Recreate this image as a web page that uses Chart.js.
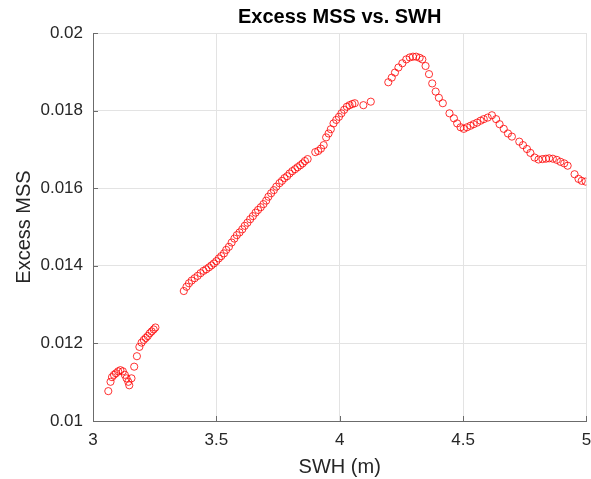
<!DOCTYPE html>
<html>
<head>
<meta charset="utf-8">
<title>Excess MSS vs. SWH</title>
<script src="https://cdn.jsdelivr.net/npm/chart.js@4.4.1/dist/chart.umd.min.js"></script>
<style>
    html, body { margin: 0; padding: 0; background: #fff; }
    #chart { display: block; }
</style>
</head>
<body>
<canvas id="chart" width="591" height="479"></canvas>
<script>
// SWH (m) values
const swh = [
    3.062, 3.071, 3.077, 3.085, 3.093, 3.102, 3.111, 3.121, 3.129, 3.136,
    3.143, 3.147, 3.156, 3.167, 3.178, 3.188, 3.197, 3.206, 3.214, 3.222,
    3.230, 3.238, 3.246, 3.253,
    3.368, 3.379, 3.389, 3.400, 3.412, 3.424, 3.436, 3.448, 3.459, 3.470,
    3.480, 3.490, 3.500, 3.510, 3.520, 3.531, 3.540, 3.551, 3.562, 3.573,
    3.583, 3.594, 3.605, 3.615, 3.626, 3.637, 3.648, 3.659, 3.669, 3.680,
    3.691, 3.702, 3.711, 3.722, 3.733, 3.743, 3.756, 3.766, 3.776, 3.787,
    3.797, 3.808, 3.819, 3.829, 3.840, 3.850, 3.859, 3.870,
    3.901, 3.913, 3.924, 3.935, 3.945, 3.955, 3.964, 3.975, 3.986, 3.997,
    4.007, 4.018, 4.029, 4.040, 4.051, 4.061, 4.096, 4.126,
    4.197, 4.211, 4.224, 4.238, 4.254, 4.270, 4.284, 4.297, 4.310, 4.324,
    4.335, 4.348, 4.362, 4.375, 4.389, 4.402, 4.418, 4.445, 4.463, 4.476,
    4.490, 4.503, 4.516, 4.530, 4.543, 4.557, 4.571, 4.584, 4.600, 4.617,
    4.634, 4.648, 4.665, 4.682, 4.698, 4.728, 4.743, 4.759, 4.773, 4.790,
    4.806, 4.822, 4.836, 4.849, 4.864, 4.880, 4.895, 4.910, 4.924, 4.952,
    4.968, 4.981, 4.997
];

// matching Excess MSS values
const excessMss = [
    0.01077, 0.01101, 0.01113, 0.01119, 0.01123, 0.01128, 0.01131, 0.01128, 0.01119, 0.01110,
    0.01101, 0.01092, 0.01110, 0.01140, 0.01167, 0.01191, 0.01202, 0.01209, 0.01214, 0.01219,
    0.01226, 0.01231, 0.01236, 0.01241,
    0.01335, 0.01346, 0.01355, 0.01362, 0.01368, 0.01374, 0.01381, 0.01387, 0.01391, 0.01396,
    0.01401, 0.01406, 0.01412, 0.01419, 0.01425, 0.01432, 0.01441, 0.01449, 0.01460, 0.01470,
    0.01479, 0.01486, 0.01494, 0.01503, 0.01511, 0.01520, 0.01528, 0.01537, 0.01544, 0.01551,
    0.01559, 0.01568, 0.01578, 0.01587, 0.01595, 0.01604, 0.01613, 0.01619, 0.01626, 0.01631,
    0.01638, 0.01644, 0.01649, 0.01654, 0.01659, 0.01664, 0.01670, 0.01675,
    0.01693, 0.01696, 0.01702, 0.01711, 0.01731, 0.01741, 0.01752, 0.01767, 0.01776, 0.01784,
    0.01793, 0.01802, 0.01810, 0.01814, 0.01817, 0.01819, 0.01814, 0.01823,
    0.01873, 0.01885, 0.01898, 0.01911, 0.01922, 0.01932, 0.01937, 0.01939, 0.01939, 0.01936,
    0.01932, 0.01915, 0.01894, 0.01870, 0.01849, 0.01833, 0.01819, 0.01793, 0.01780, 0.01767,
    0.01757, 0.01753, 0.01757, 0.01761, 0.01765, 0.01769, 0.01774, 0.01778, 0.01782, 0.01788,
    0.01778, 0.01765, 0.01753, 0.01741, 0.01733, 0.01720, 0.01711, 0.01701, 0.01691, 0.01679,
    0.01674, 0.01675, 0.01676, 0.01677, 0.01676, 0.01673, 0.01668, 0.01664, 0.01658, 0.01636,
    0.01624, 0.01619, 0.01617
];

// axis ticks
const xTicks = [3, 3.5, 4, 4.5, 5];
const yTicks = [0.01, 0.012, 0.014, 0.016, 0.018, 0.02];

const fontFamily = '"Liberation Sans", Arial, Helvetica, sans-serif';
const axisColor = '#6b6b6b';
const gridColor = '#e3e3e3';
const textColor = '#262626';

// small inward tick marks, like the matlab axes
const innerTicks = {
    id: 'innerTicks',
    afterDatasetsDraw(chart) {
        const { ctx, chartArea, scales } = chart;
        ctx.save();
        ctx.strokeStyle = axisColor;
        ctx.lineWidth = 1;
        ctx.beginPath();
        xTicks.forEach(v => {
            const px = Math.round(scales.x.getPixelForValue(v)) + 0.5;
            ctx.moveTo(px, chartArea.bottom);
            ctx.lineTo(px, chartArea.bottom - 5);
        });
        yTicks.forEach(v => {
            const py = Math.round(scales.y.getPixelForValue(v)) + 0.5;
            ctx.moveTo(chartArea.left, py);
            ctx.lineTo(chartArea.left + 5, py);
        });
        ctx.stroke();
        ctx.restore();
    }
};

const ctx = document.querySelector('#chart');
new Chart(ctx, {
    type: 'scatter',
    data: {
        datasets: [{
            data: swh.map((x, i) => ({ x, y: excessMss[i] })),
            pointStyle: 'circle',
            pointRadius: 3.6,
            pointBorderWidth: 1,
            borderColor: 'rgba(255, 0, 0, 0.8)',
            backgroundColor: 'rgba(0, 0, 0, 0)',
            pointHoverRadius: 3.6
        }]
    },
    options: {
        responsive: false,
        animation: false,
        devicePixelRatio: 1,
        layout: { padding: { left: 0, right: 4, top: 0, bottom: 0 } },
        plugins: {
            legend: { display: false },
            tooltip: { enabled: false },
            title: {
                display: true,
                text: 'Excess MSS vs. SWH',
                fullSize: false,
                color: '#000',
                font: { family: fontFamily, size: 20, weight: 'bold' },
                padding: { top: 5, bottom: 4 }
            }
        },
        scales: {
            x: {
                type: 'linear',
                min: 3,
                max: 5,
                afterBuildTicks: scale => { scale.ticks = xTicks.map(value => ({ value })); },
                afterFit: scale => {
                    scale.height = 58;
                    // let the "5" run off the edge like in the original
                    scale.paddingLeft = 0;
                    scale.paddingRight = 0;
                },
                grid: { color: gridColor, drawTicks: false, tickLength: 0 },
                border: { display: true, color: axisColor, width: 1 },
                ticks: {
                    color: textColor,
                    padding: 9,
                    maxRotation: 0,
                    autoSkip: false,
                    font: { family: fontFamily, size: 17 },
                    callback: v => String(parseFloat(v.toFixed(2)))
                },
                title: {
                    display: true,
                    text: 'SWH (m)',
                    color: textColor,
                    font: { family: fontFamily, size: 20 },
                    padding: { top: 0, bottom: 0 }
                }
            },
            y: {
                type: 'linear',
                min: 0.01,
                max: 0.02,
                afterBuildTicks: scale => { scale.ticks = yTicks.map(value => ({ value })); },
                afterFit: scale => { scale.width = 93; },
                grid: { color: gridColor, drawTicks: false, tickLength: 0 },
                border: { display: true, color: axisColor, width: 1 },
                ticks: {
                    color: textColor,
                    padding: 10,
                    autoSkip: false,
                    font: { family: fontFamily, size: 17 },
                    callback: v => String(parseFloat(v.toFixed(4)))
                },
                title: {
                    display: true,
                    text: 'Excess MSS',
                    color: textColor,
                    font: { family: fontFamily, size: 20 },
                    padding: { top: 12, bottom: 0 }
                }
            }
        }
    },
    plugins: [innerTicks]
});
</script>
</body>
</html>
